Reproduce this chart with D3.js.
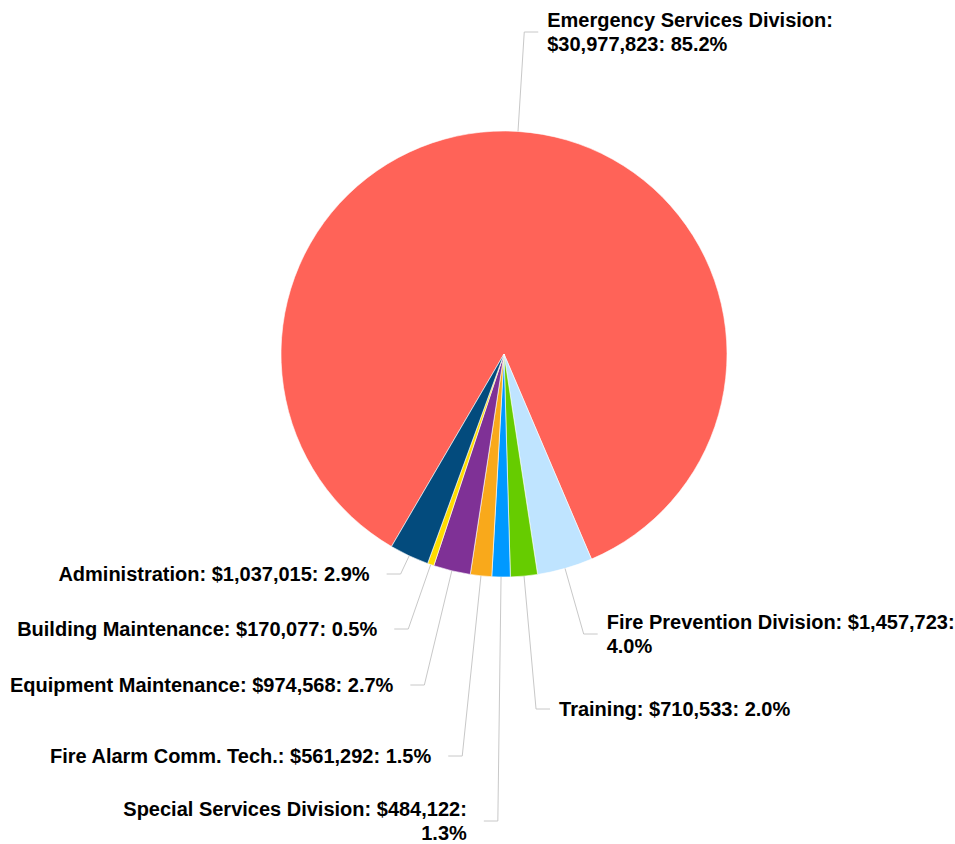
<!DOCTYPE html>
<html>
<head>
<meta charset="utf-8">
<script src="https://cdn.jsdelivr.net/npm/d3@7"></script>
<style>
  html, body { margin: 0; padding: 0; background: #fff; }
  svg { display: block; }
  .label { font-family: "Liberation Sans", Arial, sans-serif; font-weight: bold; font-size: 20px; fill: #000; }
</style>
</head>
<body>
<div id="chart"></div>
<script>
// data, in drawing order (clockwise)
var divisions = ['Emergency Services Division', 'Fire Prevention Division', 'Training',
    'Special Services Division', 'Fire Alarm Comm. Tech.', 'Equipment Maintenance',
    'Building Maintenance', 'Administration'];
var budgets = [30977823, 1457723, 710533, 484122, 561292, 974568, 170077, 1037015];
var colors = ['#FF6358', '#BFE4FF', '#66CC00', '#0099FF', '#F9A91B', '#7F3196', '#FFDD00', '#034B7D'];

// label layout: y of the connector elbow for each slice
var labelY = [32, 634, 709, 821, 756, 685, 629, 574];

var width = 955,
    height = 844,
    cx = 504,
    cy = 354,
    radius = 223,
    startDeg = 210.3,
    wrapWidth = 387;

var svg = d3.select('#chart').append('svg')
    .attr('width', width)
    .attr('height', height);

var total = d3.sum(budgets);
var fmt = d3.format(',');

var rows = divisions.map(function (name, i) {
    return { name: name, value: budgets[i], color: colors[i], ly: labelY[i] };
});

var pie = d3.pie()
    .sort(null)
    .value(function (d) { return d.value; })
    .startAngle(startDeg * Math.PI / 180)
    .endAngle(startDeg * Math.PI / 180 + Math.PI * 2);

var arc = d3.arc().innerRadius(0).outerRadius(radius);

var arcs = pie(rows);

var g = svg.append('g').attr('transform', 'translate(' + cx + ',' + cy + ')');

g.selectAll('path.slice')
    .data(arcs)
    .enter()
    .append('path')
    .attr('class', 'slice')
    .attr('d', arc)
    .attr('fill', function (d) { return d.data.color; })
    .attr('stroke', '#fff')
    .attr('stroke-width', 0.6);

// leader lines: radial from the edge to the label row, then a short horizontal
function mid(d) { return (d.startAngle + d.endAngle) / 2; }
function side(d) { return Math.sin(mid(d)) >= 0 ? 1 : -1; }

function leader(d) {
    var a = mid(d);
    var y = d.data.ly - cy;
    var rho = -y / Math.cos(a);
    var p0 = [radius * Math.sin(a), -radius * Math.cos(a)];
    var p1 = [rho * Math.sin(a), y];
    var p2 = [p1[0] + side(d) * 14, y];
    return [p0, p1, p2];
}

g.selectAll('polyline.leader')
    .data(arcs)
    .enter()
    .append('polyline')
    .attr('class', 'leader')
    .attr('points', function (d) { return leader(d).map(function (p) { return p.join(','); }).join(' '); })
    .attr('fill', 'none')
    .attr('stroke', '#c8c8c8')
    .attr('stroke-width', 1);

var labels = g.selectAll('text.label')
    .data(arcs)
    .enter()
    .append('text')
    .attr('class', 'label')
    .attr('text-anchor', function (d) { return side(d) > 0 ? 'start' : 'end'; });

labels.each(function (d) {
    var el = d3.select(this);
    var pts = leader(d);
    var x = pts[2][0] + (side(d) > 0 ? 9 : -17);
    var pct = (d.data.value / total * 100).toFixed(1) + '%';
    var words = (d.data.name + ': $' + fmt(d.data.value) + ': ' + pct).split(' ');

    // greedy word wrap
    var lines = [], line = [];
    var probe = el.append('tspan');
    words.forEach(function (w) {
        line.push(w);
        probe.text(line.join(' '));
        if (probe.node().getComputedTextLength() > wrapWidth && line.length > 1) {
            line.pop();
            lines.push(line.join(' '));
            line = [w];
        }
    });
    lines.push(line.join(' '));
    probe.remove();

    var lh = 24;
    var y0 = d.data.ly - cy - (lines.length - 1) * lh / 2;
    lines.forEach(function (t, i) {
        el.append('tspan')
            .attr('x', x)
            .attr('y', y0 + i * lh)
            .attr('dy', '0.35em')
            .text(t);
    });
});
</script>
</body>
</html>
